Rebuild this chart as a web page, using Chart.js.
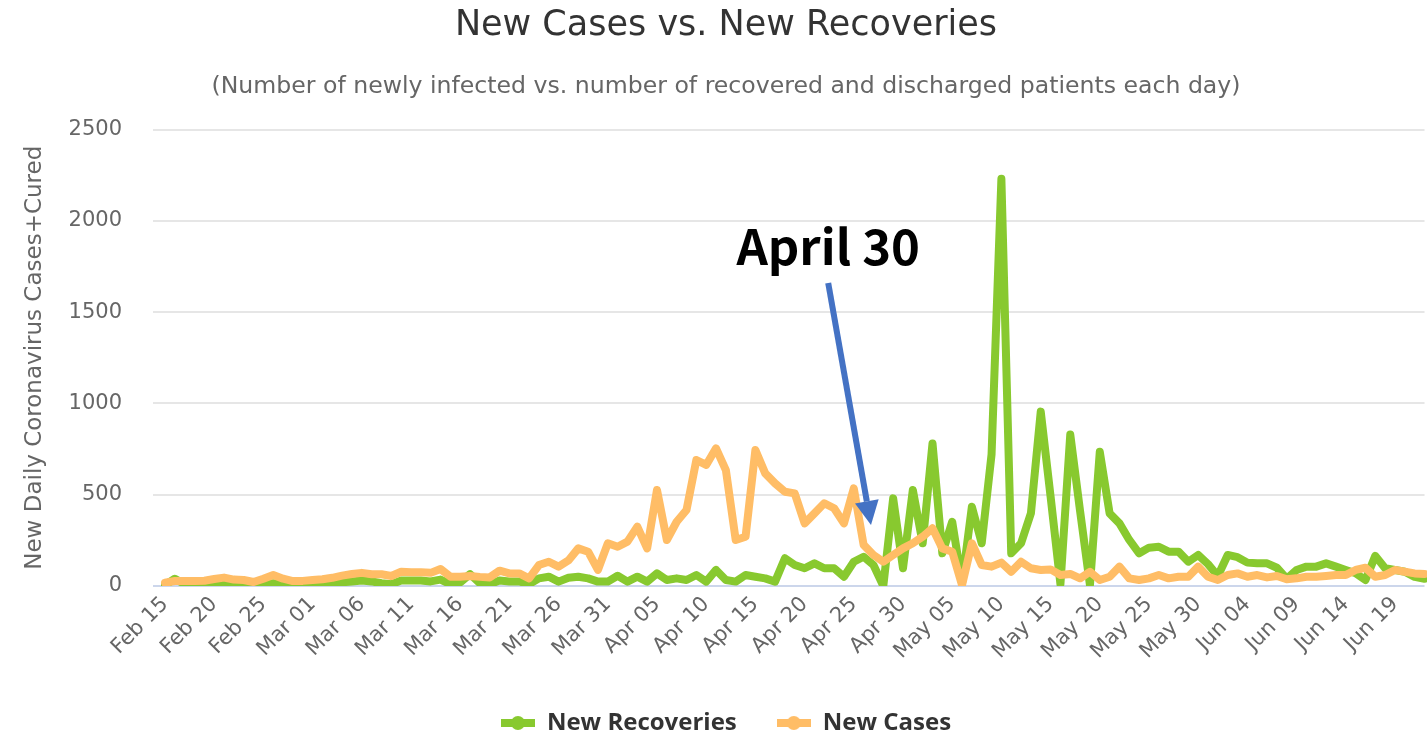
<!DOCTYPE html>
<html>
<head>
<meta charset="utf-8">
<title>New Cases vs. New Recoveries</title>
<script src="https://cdn.jsdelivr.net/npm/chart.js@4.4.1/dist/chart.umd.min.js"></script>
<style>
  html, body { margin: 0; padding: 0; background: #fff; overflow: hidden; }
  #chart { display: block; }
</style>
</head>
<body>
<!-- canvas is a bit larger than the window: the reference is cropped on the right and bottom -->
<canvas id="chart" width="1452" height="745"></canvas>
<script>
// =========================================================================
// Daily values, Feb 15 .. Jun 22 (2020)
// =========================================================================
const firstDay = new Date(2020, 1, 15);

const tickLabels = [
    'Feb 15', 'Feb 20', 'Feb 25', 'Mar 01', 'Mar 06', 'Mar 11', 'Mar 16',
    'Mar 21', 'Mar 26', 'Mar 31', 'Apr 05', 'Apr 10', 'Apr 15', 'Apr 20',
    'Apr 25', 'Apr 30', 'May 05', 'May 10', 'May 15', 'May 20', 'May 25',
    'May 30', 'Jun 04', 'Jun 09', 'Jun 14', 'Jun 19'
];

const newRecoveries = [
    5, 40, 10, 5, 5, 5, 5, 5, 5, 5,
    5, 15, 5, 5, 5, 5, 5, 12, 20, 25,
    30, 25, 15, 10, 30, 30, 30, 25, 35, 10,
    20, 65, 15, 10, 30, 25, 25, 10, 42, 51,
    24, 45, 51, 42, 24, 24, 56, 24, 51, 24,
    69, 33, 42, 33, 60, 24, 88, 33, 24, 60,
    51, 42, 24, 152, 115, 97, 124, 97, 97, 51,
    133, 160, 115, 0, 480, 97, 526, 234, 781, 179,
    352, 15, 434, 234, 720, 2230, 179, 234, 398, 955,
    490, 10, 830, 410, 5, 735, 398, 343, 252, 179,
    210, 215, 188, 188, 133, 170, 120, 55, 170, 158,
    128, 124, 124, 100, 40, 88, 106, 106, 124, 106,
    88, 70, 33, 165, 97, 88, 78, 50, 40
];

const newCases = [
    18, 27, 27, 28, 29, 38, 46, 35, 33, 22,
    40, 60, 40, 27, 28, 33, 37, 45, 57, 66,
    72, 64, 64, 55, 78, 75, 75, 72, 93, 51,
    51, 55, 50, 47, 84, 69, 69, 42, 115, 133,
    106, 140, 206, 188, 88, 234, 215, 243, 325, 206,
    526, 252, 352, 416, 690, 663, 754, 635, 252, 270,
    745, 617, 562, 516, 507, 343, 398, 453, 426, 343,
    535, 225, 170, 133, 170, 206, 234, 270, 316, 206,
    188, 5, 234, 115, 106, 128, 78, 133, 97, 88,
    91, 60, 66, 42, 78, 33, 51, 106, 42, 33,
    42, 60, 42, 51, 51, 106, 51, 33, 60, 69,
    51, 60, 47, 55, 37, 42, 51, 51, 55, 60,
    60, 88, 100, 51, 60, 88, 78, 69, 66
];

// the "April 30" note: [day index, value] anchors on the chart's own scales
const note = {
    text: 'April 30',
    textAt: [67.4, 1758],
    tailAt: [67.4, 1659],
    tipAt: [71.75, 334]
};

const green = '#88c92f';
const orange = '#ffbd66';
const font = 'DejaVu Sans';

// one category per day
const monthNames = ['Jan', 'Feb', 'Mar', 'Apr', 'May', 'Jun', 'Jul'];
const categories = newCases.map((v, i) => {
    const d = new Date(firstDay);
    d.setDate(d.getDate() + i);
    return monthNames[d.getMonth()] + ' ' + String(d.getDate()).padStart(2, '0');
});

// legend symbol: thick line with a dot in the middle
function legendSymbol(color) {
    const c = document.createElement('canvas');
    c.width = 34;
    c.height = 16;
    const g = c.getContext('2d');
    g.strokeStyle = color;
    g.lineWidth = 8;
    g.beginPath();
    g.moveTo(0, 8);
    g.lineTo(34, 8);
    g.stroke();
    g.fillStyle = color;
    g.beginPath();
    g.arc(17, 8, 7, 0, Math.PI * 2);
    g.fill();
    return c;
}

// draws the hand-added label and blue arrow
const arrowNote = {
    id: 'arrowNote',
    afterDatasetsDraw(chart) {
        const { ctx, scales: { x, y } } = chart;
        const px = p => [x.getPixelForValue(p[0]), y.getPixelForValue(p[1])];
        const [tx, ty] = px(note.textAt);
        const [ax, ay] = px(note.tailAt);
        const [bx, by] = px(note.tipAt);

        ctx.save();
        ctx.font = 'bold 49px "Noto Sans CJK JP"';
        ctx.fillStyle = '#000';
        ctx.textAlign = 'center';
        ctx.textBaseline = 'alphabetic';
        ctx.fillText(note.text, tx, ty);

        const ang = Math.atan2(by - ay, bx - ax);
        const headLen = 24, headHalf = 12;
        const hx = bx - headLen * Math.cos(ang);
        const hy = by - headLen * Math.sin(ang);
        ctx.strokeStyle = '#4472c4';
        ctx.lineWidth = 6;
        ctx.beginPath();
        ctx.moveTo(ax, ay);
        ctx.lineTo(hx, hy);
        ctx.stroke();
        ctx.fillStyle = '#4472c4';
        ctx.beginPath();
        ctx.moveTo(bx, by);
        ctx.lineTo(hx + headHalf * Math.sin(ang), hy - headHalf * Math.cos(ang));
        ctx.lineTo(hx - headHalf * Math.sin(ang), hy + headHalf * Math.cos(ang));
        ctx.closePath();
        ctx.fill();
        ctx.restore();
    }
};

const ctx = document.getElementById('chart').getContext('2d');
const chart = new Chart(ctx, {
    type: 'line',
    data: {
        labels: categories,
        datasets: [{
            label: 'New Recoveries',
            data: newRecoveries,
            borderColor: green,
            backgroundColor: green,
            borderWidth: 8,
            pointRadius: 0,
            pointStyle: legendSymbol(green),
            borderJoinStyle: 'round',
            borderCapStyle: 'round',
            tension: 0,
            order: 2
        }, {
            label: 'New Cases',
            data: newCases,
            borderColor: orange,
            backgroundColor: orange,
            borderWidth: 8,
            pointRadius: 0,
            pointStyle: legendSymbol(orange),
            borderJoinStyle: 'round',
            borderCapStyle: 'round',
            tension: 0,
            order: 1
        }]
    },
    options: {
        responsive: false,
        animation: false,
        events: [],
        layout: { padding: 0 },
        plugins: {
            title: {
                display: true,
                text: 'New Cases vs. New Recoveries',
                color: '#333333',
                font: { family: font, size: 35, weight: 'normal' },
                padding: { top: 5, bottom: 26 }
            },
            subtitle: {
                display: true,
                text: '(Number of newly infected vs. number of recovered and discharged patients each day)',
                color: '#666666',
                font: { family: font, size: 23.6, weight: 'normal' },
                padding: { top: 0, bottom: 28.2 }
            },
            legend: {
                position: 'bottom',
                labels: {
                    usePointStyle: true,
                    pointStyleWidth: 34,
                    padding: 40,
                    color: '#333333',
                    font: { family: 'Open Sans', size: 24, weight: 'bold' },
                    sort: (a, b) => a.datasetIndex - b.datasetIndex
                }
            },
            tooltip: { enabled: false }
        },
        scales: {
            x: {
                type: 'category',
                grid: { display: false, drawTicks: false },
                border: { display: false },
                ticks: {
                    autoSkip: false,
                    minRotation: 45,
                    maxRotation: 45,
                    padding: 6,
                    color: '#666666',
                    font: { family: font, size: 21 },
                    callback: (value, index) => index % 5 === 0 ? tickLabels[index / 5] : null
                },
                afterFit: scale => { scale.height = 85; }
            },
            y: {
                min: 0,
                max: 2500,
                border: { display: false },
                grid: {
                    color: c => c.tick && c.tick.value === 0 ? '#ccd6eb' : '#e6e6e6',
                    lineWidth: 2,
                    drawTicks: true,
                    tickLength: 12
                },
                ticks: {
                    stepSize: 500,
                    padding: 31,
                    color: '#666666',
                    font: { family: font, size: 21 },
                    callback: value => String(value)
                },
                title: {
                    display: true,
                    text: 'New Daily Coronavirus Cases+Cured',
                    color: '#666666',
                    font: { family: font, size: 23 },
                    padding: { top: 21, bottom: 0 }
                },
                afterFit: scale => { scale.width = 165; }
            },
            // empty strip on the right so the plot ends where the reference crop shows it
            spacer: {
                type: 'linear',
                position: 'right',
                grid: { display: false, drawTicks: false },
                border: { display: false },
                ticks: { display: false },
                afterFit: scale => { scale.width = 27.5; }
            }
        }
    },
    plugins: [arrowNote]
});
</script>
</body>
</html>
